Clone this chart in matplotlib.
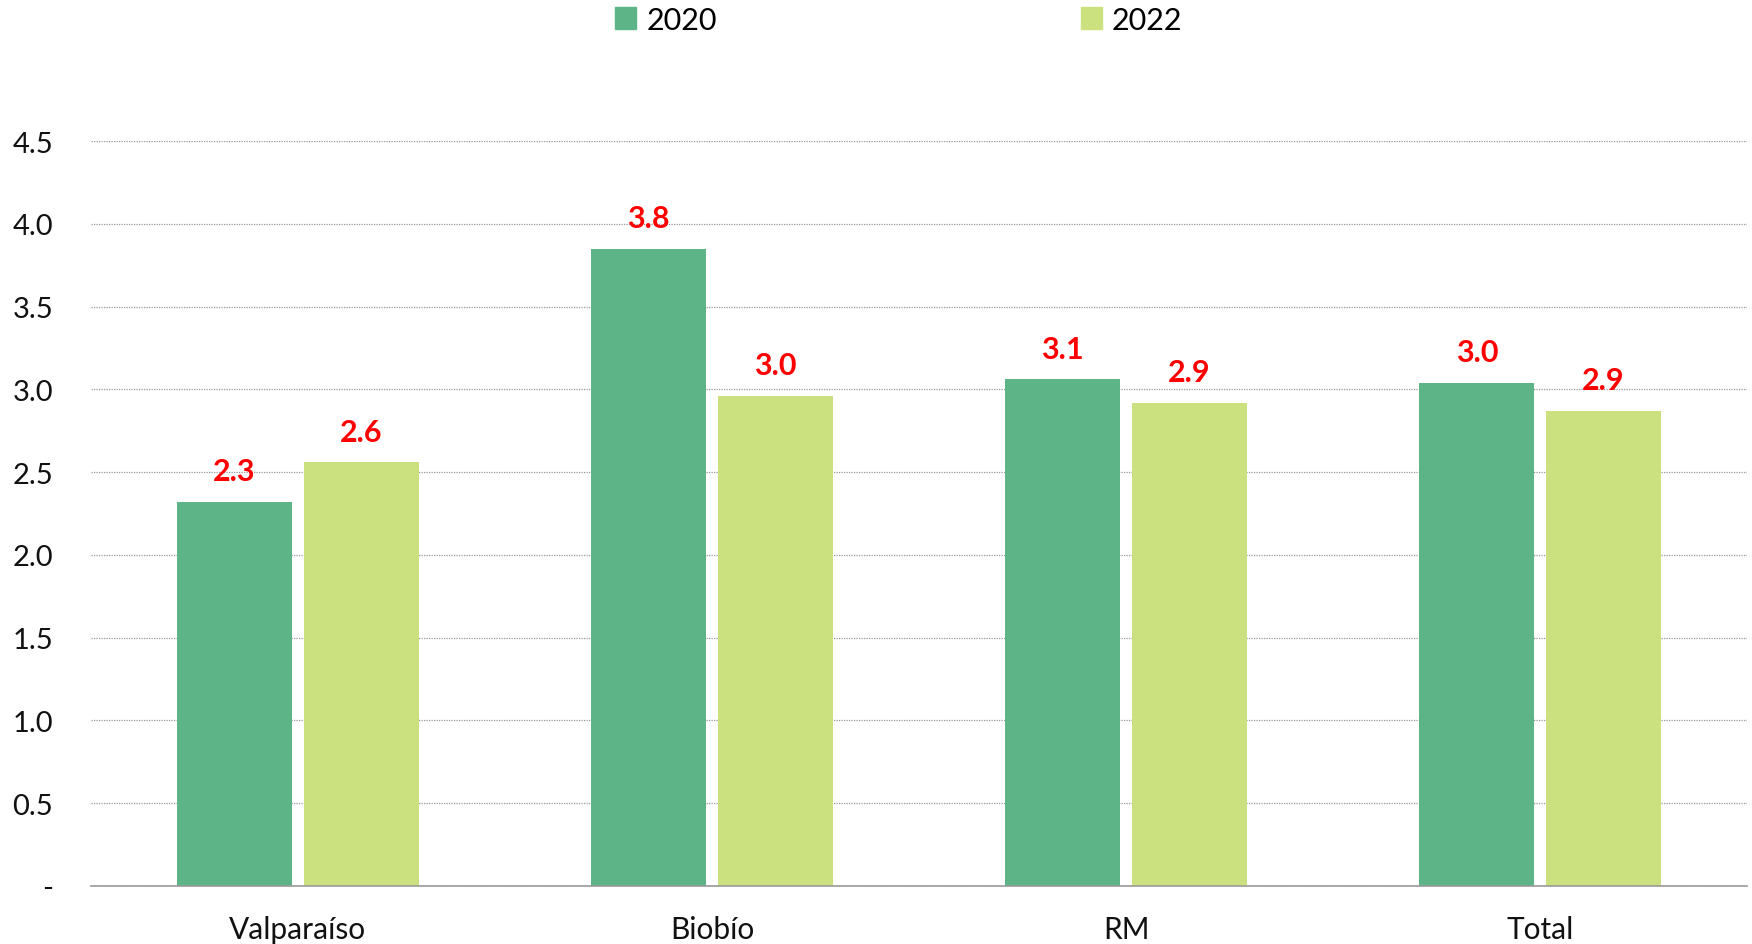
import numpy as np
import matplotlib
matplotlib.use('Agg')
import matplotlib.pyplot as plt
from matplotlib.patches import Patch

plt.rcParams['font.family'] = ['Lato', 'DejaVu Sans']

regions = ['Valparaíso', 'Biobío', 'RM', 'Total']
v2020 = [2.32, 3.85, 3.06, 3.04]
v2022 = [2.56, 2.96, 2.92, 2.87]
lab2020 = ['2.3', '3.8', '3.1', '3.0']
lab2022 = ['2.6', '3.0', '2.9', '2.9']
yticks = [0, 0.5, 1.0, 1.5, 2.0, 2.5, 3.0, 3.5, 4.0, 4.5]
ytick_labels = ['-', '0.5', '1.0', '1.5', '2.0', '2.5', '3.0', '3.5', '4.0', '4.5']

c2020 = '#5db587'
c2022 = '#cbe180'

fig = plt.figure(figsize=(17.52, 9.45), dpi=100)
ax = fig.add_axes([0.0518, 0.0614, 0.9455, 0.7883])

x = np.arange(len(regions))
w = 0.278
off = 0.153
b1 = ax.bar(x - off, v2020, w, color=c2020, zorder=2)
b2 = ax.bar(x + off, v2022, w, color=c2022, zorder=2)

# etiquetas rojas sobre las barras
for bars, labs in ((b1, lab2020), (b2, lab2022)):
    for b, t in zip(bars, labs):
        ax.annotate(t, (b.get_x() + b.get_width() / 2, b.get_height()),
                    xytext=(0, 12), textcoords='offset points',
                    ha='center', va='bottom', color='#ff0000',
                    fontsize=22, fontweight='bold')

ax.set_xlim(-0.5, 3.5)
ax.set_ylim(0, 4.5)
ax.set_yticks(yticks)
ax.set_yticklabels(ytick_labels)
ax.set_xticks(x)
ax.set_xticklabels(regions)
ax.tick_params(axis='both', length=0, labelsize=21, colors='#111111')
ax.tick_params(axis='x', labelsize=21.5, pad=21)
ax.tick_params(axis='y', pad=27)

ax.yaxis.grid(True, linestyle=(0, (1, 1)), color='#999999', linewidth=0.9, zorder=0)
ax.set_axisbelow(True)
for s in ['top', 'right', 'left']:
    ax.spines[s].set_visible(False)
ax.spines['bottom'].set_color('#999999')
ax.spines['bottom'].set_linewidth(1.2)

handles = [Patch(color=c2020, label='2020'), Patch(color=c2022, label='2022')]
fig.legend(handles=handles, loc='center', bbox_to_anchor=(0.513, 0.978), ncol=2,
           frameon=False, fontsize=22, handlelength=0.7, handleheight=0.7,
           handletextpad=0.33, columnspacing=11.9)

plt.savefig('out.png', dpi=100)
